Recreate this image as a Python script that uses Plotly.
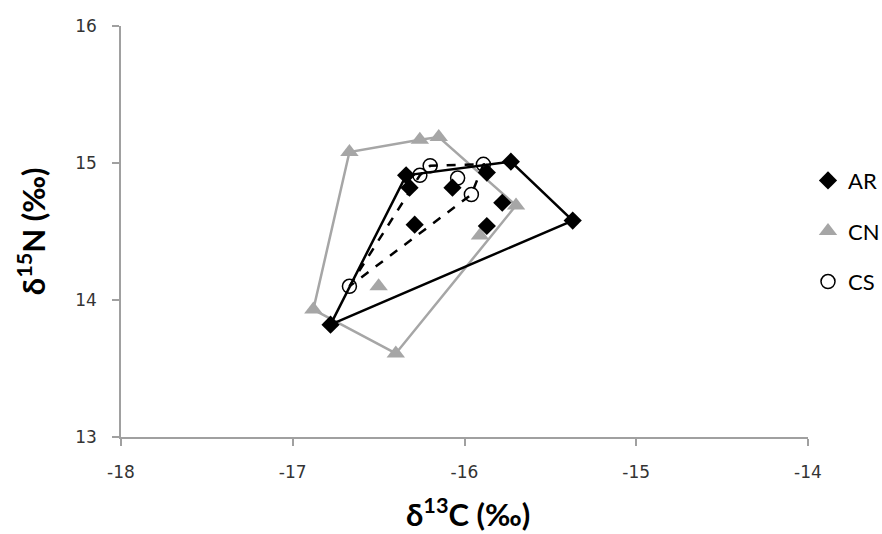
import plotly.graph_objects as go

# AR (black diamonds)
ar_x = [-16.78, -16.34, -16.32, -15.73, -15.37, -16.29, -15.87, -15.78, -16.07, -15.87]
ar_y = [13.82, 14.91, 14.82, 15.01, 14.58, 14.55, 14.54, 14.71, 14.82, 14.93]
ar_hull = [0, 1, 3, 4, 0]

# CN (grey triangles)
cn_x = [-16.67, -16.26, -16.15, -15.70, -15.91, -16.50, -16.88, -16.40]
cn_y = [15.08, 15.17, 15.19, 14.69, 14.47, 14.10, 13.93, 13.61]
cn_hull = [6, 0, 1, 2, 3, 7, 6]

# CS (open circles)
cs_x = [-16.67, -16.26, -16.20, -15.89, -16.04, -15.96]
cs_y = [14.10, 14.91, 14.98, 14.99, 14.89, 14.77]
cs_hull = [0, 1, 2, 3, 5, 0]

x_ticks = [-18, -17, -16, -15, -14]
y_ticks = [13, 14, 15, 16]

BLACK = "#000000"
GREY = "#a6a6a6"

fig = go.Figure()

def hull(xs, ys, idx, color, dash):
    fig.add_trace(go.Scatter(
        x=[xs[i] for i in idx], y=[ys[i] for i in idx], mode="lines",
        line=dict(color=color, width=2.5, dash=dash), showlegend=False, hoverinfo="skip"))

hull(cn_x, cn_y, cn_hull, GREY, "solid")
hull(ar_x, ar_y, ar_hull, BLACK, "solid")
hull(cs_x, cs_y, cs_hull, BLACK, "dash")

fig.add_trace(go.Scatter(x=cn_x, y=cn_y, mode="markers", name="CN", legendgroup="CN", legendrank=2,
                         marker=dict(symbol="triangle-up", size=16, color=GREY)))
fig.add_trace(go.Scatter(x=ar_x, y=ar_y, mode="markers", name="AR", legendgroup="AR", legendrank=1,
                         marker=dict(symbol="diamond", size=14, color=BLACK)))
fig.add_trace(go.Scatter(x=cs_x, y=cs_y, mode="markers", name="CS", legendgroup="CS", legendrank=3,
                         marker=dict(symbol="circle-open", size=14, color=BLACK, line=dict(width=1.5))))

axis_common = dict(showgrid=False, zeroline=False, showline=True, linecolor="#a0a0a0", linewidth=1.5,
                   ticks="outside", tickcolor="#a0a0a0", ticklen=7, tickwidth=1.5, automargin=False,
                   ticklabelstandoff=12,
                   tickfont=dict(family="DejaVu Sans", size=17, color="#333333"))

fig.update_layout(
    width=882, height=534,
    margin=dict(l=121, r=74, t=26, b=97, autoexpand=False),
    plot_bgcolor="white", paper_bgcolor="white",
    xaxis=dict(range=[-18, -14], tickvals=x_ticks, ticktext=[str(v) for v in x_ticks], **axis_common),
    yaxis=dict(range=[13, 16], tickvals=y_ticks, ticktext=[str(v) for v in y_ticks], **axis_common),
    legend=dict(x=1.0, y=0.675, xanchor="left", yanchor="top", tracegroupgap=19,
                font=dict(family="Lato", size=22, color="black"), itemwidth=30, bgcolor="rgba(0,0,0,0)"),
    annotations=[
        dict(text="<b>δ<sup>13</sup>C (‰)</b>", xref="paper", yref="paper", x=0.505, y=-0.183,
             xanchor="center", yanchor="middle", showarrow=False,
             font=dict(family="Lato", size=31, color="black")),
        dict(text="<b>δ<sup>15</sup>N (‰)</b>", xref="paper", yref="paper", x=-0.13, y=0.5,
             xanchor="center", yanchor="middle", showarrow=False, textangle=-90,
             font=dict(family="Lato", size=31, color="black")),
    ],
)

fig.write_html("out.html", config={"displayModeBar": False},
               post_script="document.body.style.margin='0';document.body.style.overflow='hidden';")
